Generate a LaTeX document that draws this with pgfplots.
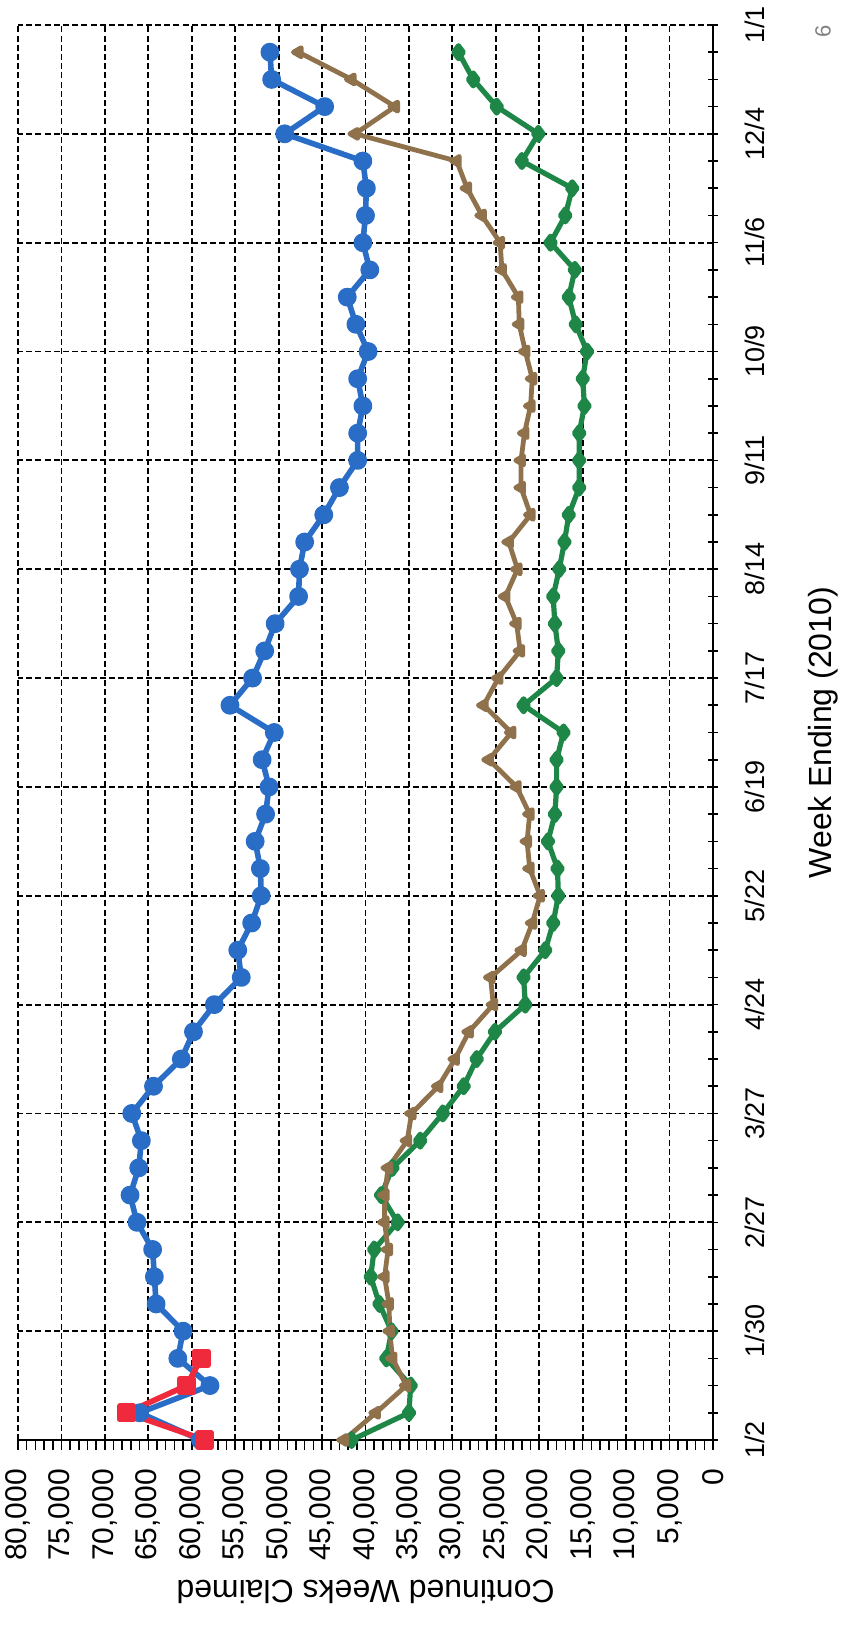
\documentclass[border=0pt]{standalone}
\usepackage{fontspec}
\setmainfont{Liberation Sans}
\usepackage{pgfplots}
\pgfplotsset{compat=1.18}
\usepackage{pgfplotstable}

\definecolor{cwblue}{HTML}{2A6DC6}
\definecolor{cwbrown}{HTML}{8F714C}
\definecolor{cwgreen}{HTML}{1E8748}
\definecolor{cwred}{HTML}{EE2A3C}

% day = days after week ending 1/2/2010; values = continued weeks claimed
\pgfplotstableread{
day blue brown green
0   59000 42500 41600
7   66000 38800 35000
14  57900 35300 34800
21  61600 36900 37600
28  61000 37200 37000
35  64100 37300 38400
42  64300 37800 39400
49  64500 37400 39000
56  66300 37800 36300
63  67100 37800 38200
70  66100 37400 36900
77  65800 35200 33700
84  66900 34700 31100
91  64400 31600 28700
98  61200 29700 27200
105 59800 28100 25100
112 57400 25300 21600
119 54300 25600 21800
126 54700 22000 19300
133 53100 20800 18400
140 52000 19900 17800
147 52100 21100 17900
154 52700 21400 19000
161 51500 21100 18200
168 51100 22600 18000
175 51900 25800 18000
182 50500 23200 17200
189 55600 26400 21800
196 53000 24700 18000
203 51600 22200 17800
210 50400 22600 18200
217 47700 23900 18400
224 47600 22500 17700
231 47000 23500 17100
238 44800 21000 16600
245 43000 22100 15400
252 40900 22100 15400
259 40900 21700 15400
266 40300 21000 14800
273 40900 20800 15000
280 39700 21600 14500
287 41100 22300 15800
294 42100 22400 16600
301 39500 24300 15900
308 40300 24500 18700
315 40000 26600 17000
322 39900 28300 16200
329 40300 29500 22000
336 49300 41200 20100
343 44700 36600 24900
350 50800 41600 27600
357 51000 47700 29300
}\weekly

\pgfplotstableread{
day red
0  58500
7  67500
14 60600
21 58900
}\redweeks

\begin{document}
\begin{tikzpicture}
\begin{axis}[
  name=ax,
  at={(0,0)}, anchor=south west,
  scale only axis, width=347.5pt, height=707.5pt,
  x dir=reverse,
  xmin=0, xmax=80000, ymin=0, ymax=364,
  axis x line*=bottom, axis y line*=right,
  axis line style={black, line width=0.9pt},
  xtick={0,5000,...,80000}, minor x tick num=4,
  ytick={0,28,...,364}, minor y tick num=3,
  yticklabels={1/2,1/30,2/27,3/27,4/24,5/22,6/19,7/17,8/14,9/11,10/9,11/6,12/4,1/1},
  scaled x ticks=false,
  xtick align=outside, ytick align=center,
  major tick length=5pt, minor tick length=5pt,
  tick style={black, line width=0.8pt},
  grid=major,
  major grid style={black, line width=0.9pt, dash pattern=on 3pt off 1.6pt},
  /pgf/number format/assume math mode=true,
  xticklabel style={font=\fontsize{15}{17}\selectfont, yshift=-6pt, rotate=90, anchor=east},
  yticklabel style={font=\fontsize{13.5}{16}\selectfont, xshift=10pt, rotate=90, anchor=north},
  clip=false,
  every axis plot/.append style={line join=round},
]
\addplot[cwgreen, line width=2.6pt, mark=diamond*, mark size=3.2pt]
  table[x=green, y=day] {\weekly};
\addplot[cwbrown, line width=2.4pt, mark=triangle*, mark size=2.6pt, mark options={rotate=90}]
  table[x=brown, y=day] {\weekly};
\addplot[cwblue, line width=2.8pt, mark=*, mark size=3.3pt]
  table[x=blue, y=day] {\weekly};
\addplot[cwred, line width=2.8pt, mark=square*, mark size=3.4pt]
  table[x=red, y=day] {\redweeks};
\end{axis}
\node[rotate=180, font=\fontsize{16}{19}\selectfont] at ([yshift=-76pt]ax.south) {Continued Weeks Claimed};
\node[rotate=90, font=\fontsize{16}{19}\selectfont] at ([xshift=55pt]ax.east) {Week Ending (2010)};
\node[rotate=90, text=gray, font=\fontsize{11}{13}\selectfont] at ([xshift=55pt,yshift=-3pt]ax.north east) {6};
\pgfresetboundingbox
\useasboundingbox ([xshift=-9pt,yshift=-93.5pt]ax.south west) rectangle ([xshift=64.5pt,yshift=12.5pt]ax.north east);
\end{tikzpicture}
\end{document}
